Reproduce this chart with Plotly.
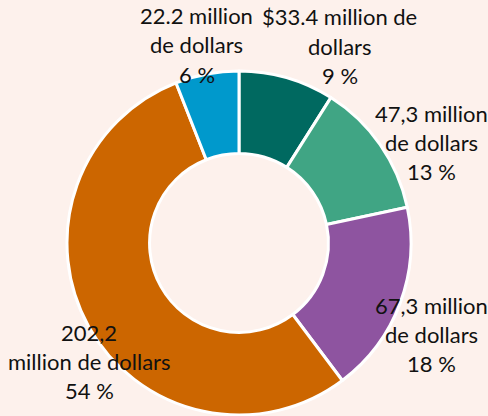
import plotly.graph_objects as go

# Data
categories = ["Catégorie A", "Catégorie B", "Catégorie C", "Catégorie D", "Catégorie E"]
values = [33.4, 47.3, 67.3, 202.2, 22.2]
percent_labels = ["9 %", "13 %", "18 %", "54 %", "6 %"]
amount_lines = [
    ["$33.4 million de", "dollars"],
    ["47,3 million", "de dollars"],
    ["67,3 million", "de dollars"],
    ["202,2", "million de dollars"],
    ["22.2 million", "de dollars"],
]

# Styling / layout
colors = ["#006960", "#40a584", "#8e54a0", "#cc6600", "#0099cc"]
bg = "#fdf1ec"
W, H = 488, 416
cx, cy, R = 239, 243, 172
hole = 0.52
# label block centres (pixels) for first line, and line spacing
label_pos = [(339.5, 17), (431, 113), (431, 305), (89, 332), (196.5, 16)]
line_gap = 29

fig = go.Figure()
fig.add_trace(go.Pie(
    labels=categories,
    values=values,
    marker=dict(colors=colors, line=dict(color="white", width=3)),
    hole=hole,
    sort=False,
    direction="clockwise",
    rotation=0,
    textinfo="none",
    hoverinfo="skip",
    showlegend=False,
    domain=dict(x=[(cx - R) / W, (cx + R) / W], y=[1 - (cy + R) / H, 1 - (cy - R) / H]),
))

annotations = []
for i in range(len(values)):
    lines = amount_lines[i] + [percent_labels[i]]
    x0, y0 = label_pos[i]
    for j, t in enumerate(lines):
        annotations.append(dict(
            x=x0 / W, y=1 - (y0 + j * line_gap) / H,
            xref="paper", yref="paper",
            xanchor="center", yanchor="middle",
            text=t, showarrow=False,
            font=dict(family="Lato", size=22, color="#111111"),
        ))

fig.update_layout(
    width=W, height=H,
    margin=dict(l=0, r=0, t=0, b=0),
    paper_bgcolor=bg, plot_bgcolor=bg,
    annotations=annotations,
)

fig.write_html(
    "out.html",
    config={"displayModeBar": False},
    post_script="document.body.style.margin='0px';document.body.style.overflow='hidden';",
)
